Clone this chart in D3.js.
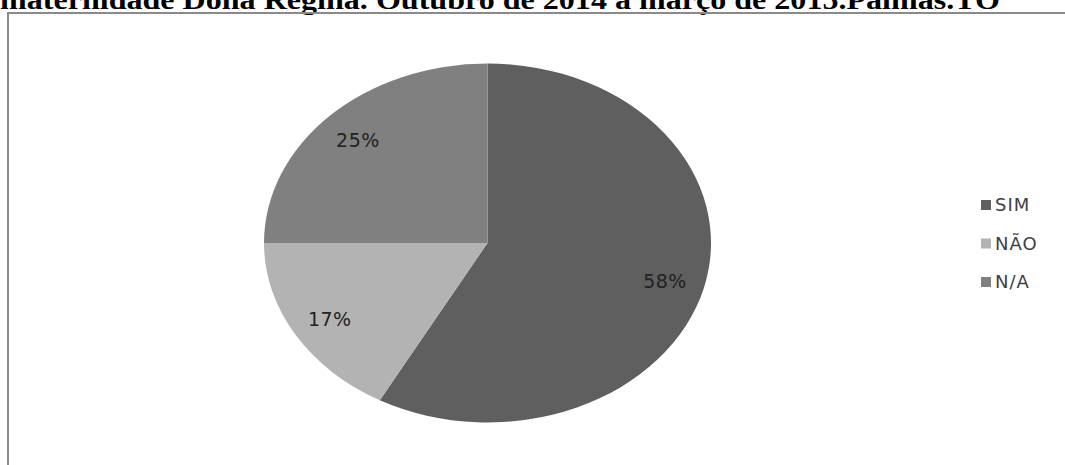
<!DOCTYPE html>
<html>
<head>
<meta charset="utf-8">
<script src="https://cdn.jsdelivr.net/npm/d3@7/dist/d3.min.js"></script>
<style>
  html, body { margin: 0; padding: 0; background: #fff; }
  svg { display: block; }
</style>
</head>
<body>
<svg id="chart" width="1065" height="465"></svg>
<script>
// Chart data
const titleText = "maternidade Dona Regina. Outubro de 2014 a março de 2015.Palmas.TO";
const categories = ["SIM", "NÃO", "N/A"];
const values = [58, 17, 25];
const colors = ["#5f5f5f", "#b3b3b3", "#808080"];

const W = 1065, H = 465;
const svg = d3.select("#chart");

// Title (runs off the top of the page)
svg.append("text")
  .attr("x", 0)
  .attr("y", 9)
  .attr("textLength", 1000)
  .attr("lengthAdjust", "spacingAndGlyphs")
  .style("font-family", "'Liberation Serif', 'Times New Roman', serif")
  .style("font-weight", "bold")
  .style("font-size", "28px")
  .attr("fill", "#000")
  .text(titleText);

// Chart frame
svg.append("path")
  .attr("d", `M8,${H + 5} L8,13 L${W + 5},13`)
  .attr("fill", "none")
  .attr("stroke", "#8a8a8a")
  .attr("stroke-width", 2);

// Elliptical pie: drawn as a circle, stretched horizontally
const cx = 487.5, cy = 243, rx = 223.5, ry = 179.5;
const pie = d3.pie().sort(null).value(d => d)(values);
const arc = d3.arc().innerRadius(0).outerRadius(ry);
const labelArc = d3.arc().innerRadius(ry * 0.82).outerRadius(ry * 0.82);

const g = svg.append("g")
  .attr("transform", `translate(${cx},${cy})`);

g.append("g")
  .attr("transform", `scale(${rx / ry},1)`)
  .selectAll("path")
  .data(pie)
  .join("path")
  .attr("d", arc)
  .attr("fill", (d, i) => colors[i]);

const fmt = d3.format(".0%");
const total = d3.sum(values);
g.selectAll("text.lbl")
  .data(pie)
  .join("text")
  .attr("class", "lbl")
  .attr("x", d => labelArc.centroid(d)[0] * rx / ry)
  .attr("y", d => labelArc.centroid(d)[1])
  .attr("dy", "0.45em")
  .attr("text-anchor", "middle")
  .style("font-family", "'DejaVu Sans', Verdana, sans-serif")
  .style("font-size", "19px")
  .style("letter-spacing", "0.5px")
  .attr("fill", "#222")
  .text(d => fmt(d.data / total));

// Legend
const legendY = d3.scalePoint().domain(categories).range([205, 282]);
const legend = svg.append("g")
  .selectAll("g")
  .data(categories)
  .join("g")
  .attr("transform", d => `translate(981,${legendY(d)})`);

legend.append("rect")
  .attr("x", 0).attr("y", -5)
  .attr("width", 10).attr("height", 10)
  .attr("fill", (d, i) => colors[i]);

legend.append("text")
  .attr("x", 14)
  .attr("dy", "0.36em")
  .style("font-family", "'DejaVu Sans', Verdana, sans-serif")
  .style("font-size", "18px")
  .style("letter-spacing", "1px")
  .attr("fill", "#404040")
  .text(d => d);
</script>
</body>
</html>
